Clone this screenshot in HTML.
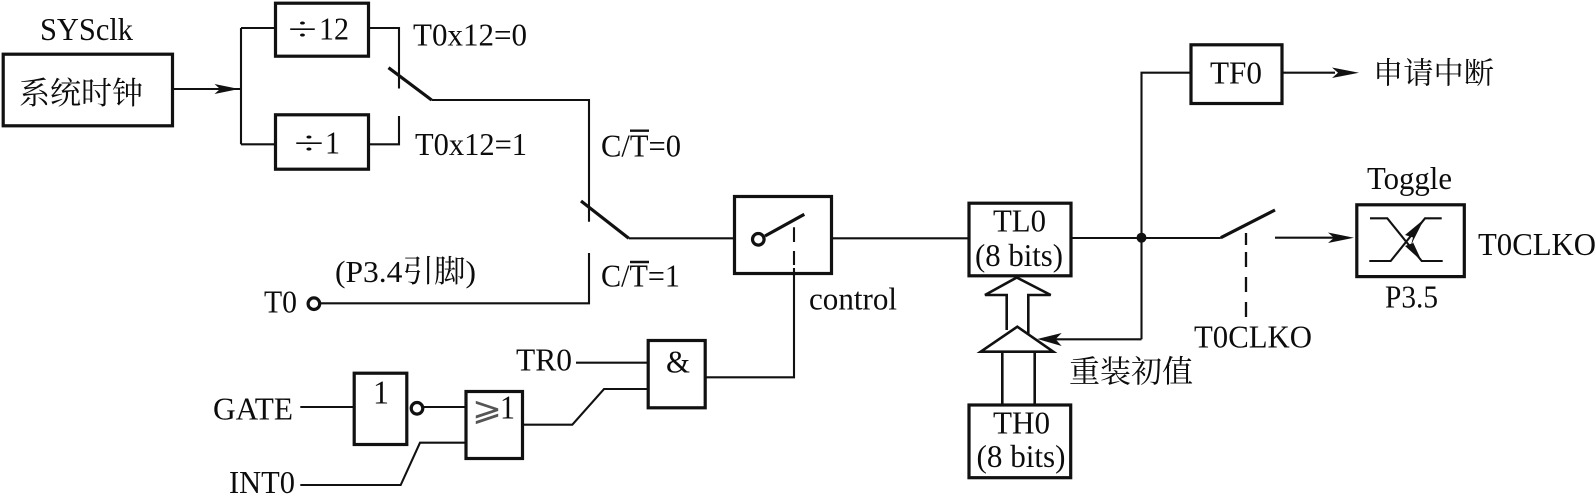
<!DOCTYPE html>
<html><head><meta charset="utf-8"><style>
html,body{margin:0;padding:0;background:#fff}
svg{display:block}
text{font-family:"Liberation Serif","Noto Serif CJK SC",serif;font-size:32px;fill:#0c0c0c}
.b{fill:#fff;stroke:#111;stroke-width:3.2}
.l{fill:none;stroke:#111;stroke-width:2.1}
.t{fill:none;stroke:#111;stroke-width:3.2}
.a{fill:#111;stroke:none}
</style></head><body>
<svg width="1596" height="494" viewBox="0 0 1596 494" xmlns="http://www.w3.org/2000/svg">
<rect width="1596" height="494" fill="#fff"/>

<!-- wires -->
<path class="l" d="M174 89H240M241 144.3V28M241 28H274M241 144.3H274M370 28H399V88.5M399 116V144.3H370"/>
<path class="l" d="M431.6 100H589V221.7"/>
<path class="l" d="M628.7 238.3H734M811 238.3H968"/>
<path class="l" d="M321 303.3H589V253"/>
<path class="l" d="M794 268V377.3H705"/>
<path class="l" d="M1072 238H1220.8M1141.5 339.3H1045M1141.5 339.3V72.7H1190M1283 72.7H1335"/>
<path class="l" d="M1275 237.7H1335"/>
<path class="l" d="M1246 233V245M1246 252V267M1246 277V292M1246 302V317" style="stroke-width:2.3"/>
<path class="l" d="M576 362.7H648M523 424.7H572.3L604 389H648"/>
<path class="l" d="M300.3 407H354M424 407H465M300.3 485H400.7L420 442.7H465"/>

<!-- switches -->
<path class="t" d="M388.5 67.7L431.6 100"/>
<path class="t" d="M581 201L628.7 238.3"/>
<path class="t" d="M1220.8 237.7L1275 210"/>

<!-- arrowheads -->
<polygon class="a" points="239,89 214.5,84 220,89 214.5,94"/>
<polygon class="a" points="1359,72.7 1332,67.5 1338,72.7 1332,78"/>
<polygon class="a" points="1354,237.7 1328,232.5 1334,237.7 1328,243"/>
<circle class="a" cx="1141.5" cy="237.7" r="5"/>

<!-- boxes -->
<rect class="b" x="3.2" y="54.2" width="169.3" height="71.6"/>
<rect class="b" x="275.5" y="3.2" width="93" height="53"/>
<rect class="b" x="275.5" y="114.8" width="93" height="54.4"/>
<rect class="b" x="734.5" y="196.5" width="97" height="77"/>
<rect class="b" x="969" y="203.2" width="102" height="72.6"/>
<rect class="b" x="969" y="405" width="101.7" height="72.7"/>
<rect class="b" x="1191" y="44.8" width="91" height="58.7"/>
<rect class="b" x="1356.8" y="204.8" width="107.5" height="71.8"/>
<rect class="b" x="648.2" y="340.5" width="57" height="67.3"/>
<rect class="b" x="466" y="391.5" width="56.5" height="67"/>
<rect class="b" x="354.2" y="373.2" width="52.6" height="71.3"/>

<!-- control switch inside -->
<circle cx="758.3" cy="239.3" r="5.8" fill="#fff" stroke="#111" stroke-width="3.2"/>
<path class="t" d="M765 236L804.3 214.3"/>
<path class="l" d="M794 227.3V242M794 251V265M794 268V276"/>

<!-- bubbles -->
<circle cx="313.9" cy="303.7" r="5.8" fill="#fff" stroke="#111" stroke-width="3.2"/>
<circle cx="417" cy="408.3" r="5.8" fill="#fff" stroke="#111" stroke-width="3.2"/>

<!-- wide arrows -->
<path d="M1006.7 330V295H985L1016.7 277.5L1050.7 295H1028.3V335" fill="#fff" stroke="#111" stroke-width="2.6"/>
<path d="M1002.3 404V351.7M1034.7 404V351.7" fill="none" stroke="#111" stroke-width="2.6"/>
<path d="M1017.3 326.7L980.7 351.7H1053.3Z" fill="#fff" stroke="#111" stroke-width="2.6"/>
<polygon class="a" points="1037.3,339 1061.7,333 1055.5,339.3 1061.7,346"/>

<!-- toggle icon -->
<path class="l" d="M1370 218.3H1387.3L1421.7 261H1442.7"/>
<path class="l" d="M1369.3 261H1390.7L1425 218.3H1441.7"/>
<polygon class="a" points="1424,219.3 1405,235 1413,237.5 1411,245"/>
<polygon class="a" points="1421.7,261 1405,246 1413,243 1411,238"/>

<!-- overbars -->
<path class="l" d="M630 130.7H649M630 262H649" style="stroke-width:2.4"/>

<!-- text -->
<text x="40" y="40" textLength="93" lengthAdjust="spacingAndGlyphs">SYSclk</text>
<text x="19" y="104" textLength="124" lengthAdjust="spacingAndGlyphs" style="font-size:31px">系统时钟</text>
<text x="288" y="39.5" textLength="29" lengthAdjust="spacingAndGlyphs">÷</text>
<text x="319" y="39.5" textLength="30" lengthAdjust="spacingAndGlyphs">12</text>
<text x="294" y="153.5" textLength="30" lengthAdjust="spacingAndGlyphs">÷</text>
<text x="325" y="153.5" textLength="15" lengthAdjust="spacingAndGlyphs">1</text>
<text x="413" y="45.3" textLength="114" lengthAdjust="spacingAndGlyphs">T0x12=0</text>
<text x="415" y="155" textLength="112" lengthAdjust="spacingAndGlyphs">T0x12=1</text>
<text x="601" y="156.7" textLength="80" lengthAdjust="spacingAndGlyphs">C/T=0</text>
<text x="601" y="286.3" textLength="79" lengthAdjust="spacingAndGlyphs">C/T=1</text>
<text x="264" y="312.7" textLength="33" lengthAdjust="spacingAndGlyphs">T0</text>
<text x="335" y="282" textLength="141" lengthAdjust="spacingAndGlyphs" style="font-size:31px">(P3.4引脚)</text>
<text x="213" y="419.3" textLength="80" lengthAdjust="spacingAndGlyphs">GATE</text>
<text x="229" y="493" textLength="66" lengthAdjust="spacingAndGlyphs">INT0</text>
<text x="516" y="370.7" textLength="56" lengthAdjust="spacingAndGlyphs">TR0</text>
<text x="373" y="403.3" textLength="16" lengthAdjust="spacingAndGlyphs" style="font-size:34px">1</text>
<text x="472" y="420" style="font-family:'DejaVu Sans Light','DejaVu Sans',sans-serif;font-size:33px;fill:#555" textLength="30" lengthAdjust="spacingAndGlyphs">⩾</text>
<text x="500" y="418.3" textLength="15" lengthAdjust="spacingAndGlyphs" style="font-size:34px">1</text>
<text x="666" y="372.3" textLength="24" lengthAdjust="spacingAndGlyphs">&amp;</text>
<text x="809" y="309.3" textLength="88" lengthAdjust="spacingAndGlyphs">control</text>
<text x="993" y="231.7" textLength="53" lengthAdjust="spacingAndGlyphs">TL0</text>
<text x="975" y="266" textLength="88" lengthAdjust="spacingAndGlyphs">(8 bits)</text>
<text x="993" y="433.3" textLength="57" lengthAdjust="spacingAndGlyphs">TH0</text>
<text x="976.5" y="467" textLength="89" lengthAdjust="spacingAndGlyphs">(8 bits)</text>
<text x="1069" y="382.5" textLength="124" lengthAdjust="spacingAndGlyphs" style="font-size:31px">重装初值</text>
<text x="1210" y="83.3" textLength="52" lengthAdjust="spacingAndGlyphs">TF0</text>
<text x="1373" y="83.5" textLength="121" lengthAdjust="spacingAndGlyphs" style="font-size:30px">申请中断</text>
<text x="1367" y="189" textLength="85" lengthAdjust="spacingAndGlyphs">Toggle</text>
<text x="1385" y="307.7" textLength="53" lengthAdjust="spacingAndGlyphs">P3.5</text>
<text x="1478" y="255" textLength="118" lengthAdjust="spacingAndGlyphs">T0CLKO</text>
<text x="1194" y="347.7" textLength="118" lengthAdjust="spacingAndGlyphs">T0CLKO</text>
</svg>
</body></html>
